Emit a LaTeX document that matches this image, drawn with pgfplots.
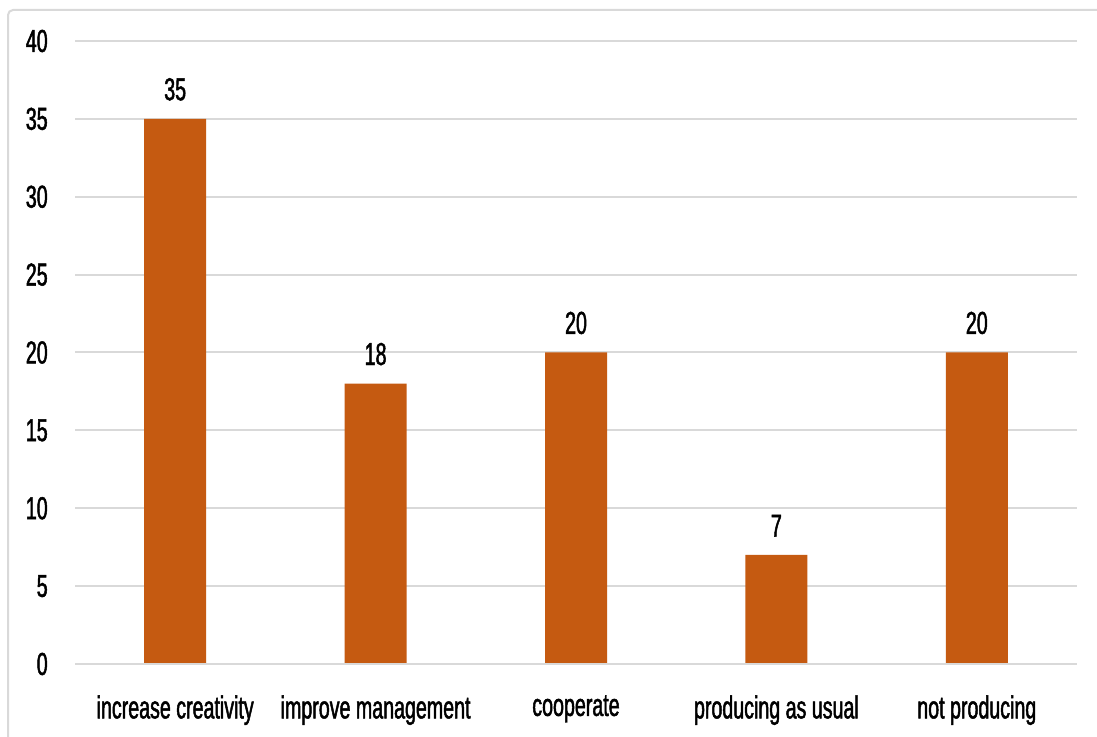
\documentclass[border=0pt]{standalone}
\usepackage{fontspec}
\setmainfont{Liberation Sans}[FakeStretch=0.62, FakeBold=1.5]
\usepackage{pgfplots}
\pgfplotsset{compat=1.18}
\definecolor{barorange}{HTML}{C55A11}
\definecolor{gridgray}{HTML}{D9D9D9}

\pgfplotstableread{
idx value
0 35
1 18
2 20
3 7
4 20
}\responses

\begin{document}
\begin{tikzpicture}
% canvas and frame
\path[use as bounding box] (0,0) rectangle (658.2pt,441.6pt);
\fill[white] (0,0) rectangle (658.2pt,441.6pt);
\draw[gridgray, line width=1.2pt, rounded corners=3pt]
  (4.8pt,-2pt) -- (4.8pt,435.6pt) -- (662pt,435.6pt);
\begin{axis}[
  at={(45pt,43.2pt)}, anchor=south west,
  scale only axis,
  width=601.2pt, height=373.8pt,
  xmin=-0.5, xmax=4.5,
  ymin=0, ymax=40,
  ytick={0,5,...,40},
  xtick=data,
  xticklabels={increase creativity, improve management, cooperate, producing as usual, not producing},
  axis line style={draw=none},
  tick style={draw=none},
  ymajorgrids,
  grid style={gridgray, line width=1.2pt},
  /pgf/number format/assume math mode=true,
  font=\fontsize{19}{21}\selectfont,
  yticklabel style={anchor=east, inner sep=0pt, xshift=-16.2pt},
  xticklabel style={anchor=north, inner sep=0pt, yshift=-14.4pt},
  ybar, bar width=37.2pt,
  nodes near coords,
  every node near coord/.append style={anchor=south, inner sep=0pt, yshift=10.8pt, text=black},
  clip=false,
]
\addplot[fill=barorange, draw=none] table[x=idx, y=value] {\responses};
\draw[gridgray, line width=1.2pt] (axis cs:-0.5,0) -- (axis cs:4.5,0);
\end{axis}
\end{tikzpicture}
\end{document}
